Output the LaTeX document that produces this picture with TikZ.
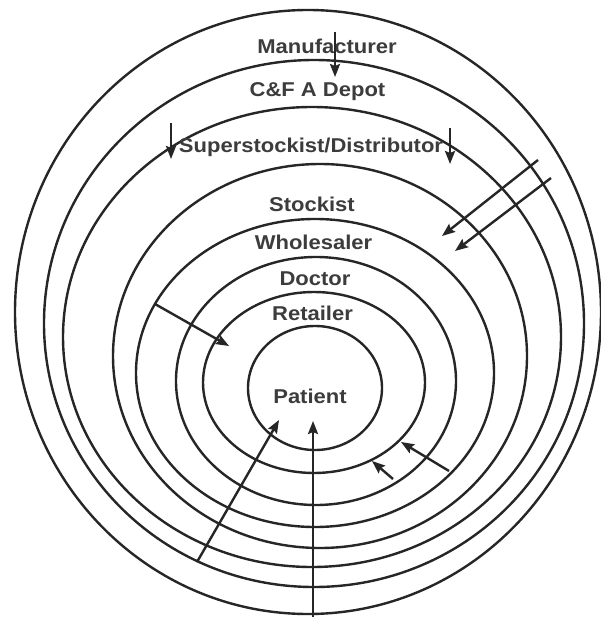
\documentclass[tikz,border=0pt]{standalone}
\usepackage{fontspec}
\setmainfont{Liberation Sans}
\usetikzlibrary{arrows.meta}
\definecolor{ink}{HTML}{262626}
\begin{document}
\begin{tikzpicture}[x=1pt,y=-1pt,
  ring/.style={draw=ink, line width=2.4pt},
  flow/.style={draw=ink, line width=2.4pt, -{Stealth[length=13pt,width=10pt,inset=2pt]}},
  lab/.style={font=\bfseries\fontsize{20}{24}\selectfont, text=ink!90, inner sep=0pt, anchor=base, xscale=1.1}]
\useasboundingbox (0,0) rectangle (600,617);
\fill[white] (0,0) rectangle (600,617);
% rings
\draw[ring] (308,312) ellipse [x radius=293, y radius=302];
\draw[ring] (314,323.5) ellipse [x radius=270, y radius=263.5];
\draw[ring] (312,337) ellipse [x radius=249, y radius=230];
\draw[ring] (320,356) ellipse [x radius=207, y radius=192];
\draw[ring] (315,373) ellipse [x radius=179, y radius=154];
\draw[ring] (316,381) ellipse [x radius=140, y radius=124];
\draw[ring] (314,382.5) ellipse [x radius=111, y radius=90.5];
\draw[ring] (315,388) ellipse [x radius=67, y radius=62];
% labels
\node[lab] (manu) at (327,54) {Manufacturer};
\node[lab] (cfa) at (317.5,97) {C\&F A Depot};
\node[lab] (super) at (311,153) {Superstockist/Distributor};
\node[lab] (stock) at (312,212) {Stockist};
\node[lab] (whole) at (313.5,250) {Wholesaler};
\node[lab] (doc) at (315,285) {Doctor};
\node[lab] (ret) at (312.5,320) {Retailer};
\node[lab] (pat) at (310,403) {Patient};
% arrow end points
\coordinate (m1) at (335,32);   \coordinate (m2) at (335,77);
\coordinate (sl1) at (171,123); \coordinate (sl2) at (171,159);
\coordinate (sr1) at (450,128); \coordinate (sr2) at (450,164);
\coordinate (ra1) at (538,160); \coordinate (ra2) at (442,236);
\coordinate (rb1) at (551,178); \coordinate (rb2) at (455,251);
\coordinate (l1) at (155,304);  \coordinate (l2) at (229,346);
\coordinate (c1) at (449,471);  \coordinate (c2) at (401,442);
\coordinate (d1) at (393,479);  \coordinate (d2) at (372,461);
\coordinate (b1) at (197,562);  \coordinate (b2) at (279,420);
\coordinate (v1) at (313,620);  \coordinate (v2) at (313,421);
% arrows
\draw[flow] (m1) -- (m2);
\draw[flow] (sl1) -- (sl2);
\draw[flow] (sr1) -- (sr2);
\draw[flow] (ra1) -- (ra2);
\draw[flow] (rb1) -- (rb2);
\draw[flow] (l1) -- (l2);
\draw[flow] (c1) -- (c2);
\draw[flow] (d1) -- (d2);
\draw[flow] (b1) -- (b2);
\draw[flow] (v1) -- (v2);
\end{tikzpicture}
\end{document}
